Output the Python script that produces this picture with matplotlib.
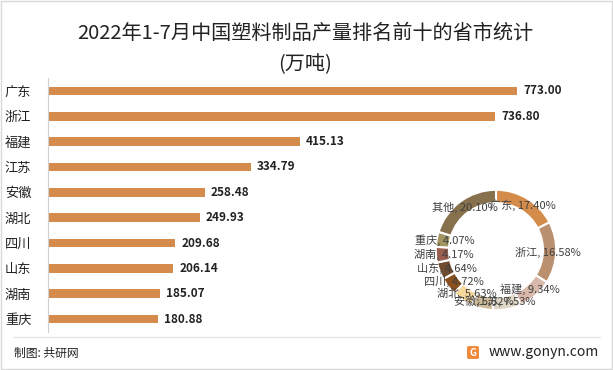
import numpy as np
import matplotlib
matplotlib.use("Agg")
import matplotlib.pyplot as plt
from matplotlib.patches import Rectangle, FancyBboxPatch
from matplotlib.lines import Line2D

plt.rcParams['font.family'] = ['Noto Sans CJK SC', 'DejaVu Sans']

# data
provinces = ["广东", "浙江", "福建", "江苏", "安徽", "湖北", "四川", "山东", "湖南", "重庆"]
output = [773.00, 736.80, 415.13, 334.79, 258.48, 249.93, 209.68, 206.14, 185.07, 180.88]

share_names = ["广东", "浙江", "福建", "江苏", "安徽", "湖北", "四川", "山东", "湖南", "重庆", "其他"]
share_pct = [17.40, 16.58, 9.34, 7.53, 5.82, 5.63, 4.72, 4.64, 4.17, 4.07, 20.10]
share_colors = ["#D58C4B", "#BA906F", "#D8B8AA", "#DED7C6", "#CDBB9A", "#F7D99C",
                "#8A4F1F", "#6F4C30", "#9A5F4F", "#A39561", "#86714C"]

W, H = 613, 370
fig = plt.figure(figsize=(W / 100, H / 100), dpi=100)


def box(x0, y0, x1, y1):
    # pixel box (top-left origin) -> figure fraction rect
    return [x0 / W, 1 - y1 / H, (x1 - x0) / W, (y1 - y0) / H]


# outer frame
fig.patches.append(Rectangle((1 / W, 1 / H), 1 - 2 / W, 1 - 2 / H, transform=fig.transFigure,
                             fill=False, edgecolor="#D9D9D9", lw=1))

fig.text(305 / W, 1 - 33 / H, "2022年1-7月中国塑料制品产量排名前十的省市统计",
         ha="center", va="center", fontsize=14.5, color="#222222")
fig.text(305 / W, 1 - 65 / H, "(万吨)", ha="center", va="center", fontsize=14.5, color="#222222")

# bar chart
ax = fig.add_axes(box(48, 78, 600, 332))
y = np.arange(len(provinces))
ax.barh(y, output, height=0.34, color="#D48B4C")
xmax = 773.00 * 552 / 469
ax.set_xlim(0, xmax)
ax.set_ylim(len(provinces) - 0.49, -0.51)
for yi, v in zip(y, output):
    ax.text(v + xmax * 0.011, yi, f"{v:.2f}", va="center", ha="left",
            fontsize=8.5, fontweight="bold", color="#222222")
ax.set_yticks(y)
ax.set_yticklabels(provinces, fontsize=9.5, color="#222222")
ax.tick_params(axis="y", length=0, pad=12)
ax.set_xticks([])
for s in ["top", "right", "bottom"]:
    ax.spines[s].set_visible(False)
ax.spines["left"].set_color("#D0D0D0")
ax.patch.set_alpha(0)

# donut chart
R = 71
cx, cy = 496, 250
half = R * 1.06
ax2 = fig.add_axes(box(cx - half, cy - half, cx + half, cy + half))
ax2.set_xlim(-1.06, 1.06)
ax2.set_ylim(-1.06, 1.06)
ax2.set_aspect("equal")
ax2.axis("off")
wedges, _ = ax2.pie(share_pct, colors=share_colors, startangle=90, counterclock=False,
                    radius=1.0, wedgeprops=dict(width=0.22, edgecolor="white", linewidth=1.5))
for w, name, p in zip(wedges, share_names, share_pct):
    mid = np.deg2rad((w.theta1 + w.theta2) / 2)
    r = 0.87
    ax2.text(r * np.cos(mid), r * np.sin(mid), f"{name}, {p:.2f}%", ha="center", va="center",
             fontsize=8, color="#404040")

# footer
fig.add_artist(Line2D([14 / W, 600 / W], [1 - 337 / H, 1 - 337 / H],
                      transform=fig.transFigure, color="#E6E6E6", lw=1))
fig.text(14 / W, 1 - 353 / H, "制图: 共研网", ha="left", va="center", fontsize=8.5, color="#222222")
fig.text(599 / W, 1 - 352 / H, "www.gonyn.com", ha="right", va="center", fontsize=10, color="#222222")
fig.patches.append(FancyBboxPatch((467 / W, 1 - 359 / H), 12 / W, 13 / H,
                                  boxstyle="round,pad=0,rounding_size=0.004",
                                  transform=fig.transFigure, facecolor="#F08A3C", edgecolor="none"))
fig.text(473 / W, 1 - 352.5 / H, "G", ha="center", va="center", fontsize=7, fontweight="bold",
         color="white")

fig.savefig("out.png", dpi=100)
